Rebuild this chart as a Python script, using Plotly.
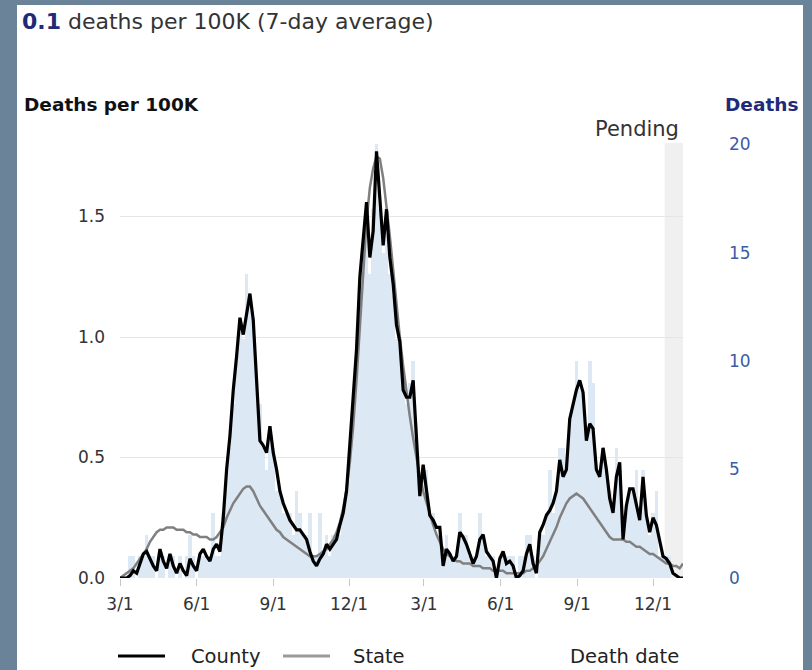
import pandas as pd
import plotly.graph_objects as go

# ---------------- data ----------------
START_DATE = "2020-03-01"
STEP_DAYS = 4          # sampling step of the series below
END_DATE = "2022-01-06"
PENDING_START = "2021-12-15"

# County 7-day average deaths per 100K
county = [0.00, 0.00, 0.00, 0.01, 0.03, 0.02, 0.06, 0.10, 0.11, 0.08,
          0.05, 0.03, 0.12, 0.07, 0.04, 0.10, 0.05, 0.02, 0.06, 0.03,
          0.01, 0.08, 0.05, 0.03, 0.10, 0.12, 0.09, 0.07, 0.12, 0.14,
          0.11, 0.25, 0.45, 0.59, 0.78, 0.92, 1.08, 1.01, 1.10, 1.18,
          1.07, 0.82, 0.57, 0.55, 0.52, 0.63, 0.52, 0.45, 0.36, 0.31,
          0.27, 0.24, 0.22, 0.20, 0.20, 0.18, 0.16, 0.11, 0.07, 0.05,
          0.08, 0.10, 0.14, 0.12, 0.14, 0.16, 0.22, 0.27, 0.36, 0.56,
          0.75, 0.95, 1.25, 1.42, 1.56, 1.33, 1.44, 1.77, 1.58, 1.38,
          1.53, 1.33, 1.22, 1.05, 0.98, 0.78, 0.75, 0.75, 0.82, 0.59,
          0.34, 0.47, 0.37, 0.26, 0.24, 0.21, 0.21, 0.05, 0.12, 0.10,
          0.07, 0.09, 0.19, 0.17, 0.14, 0.10, 0.06, 0.09, 0.16, 0.18,
          0.11, 0.09, 0.07, 0.00, 0.08, 0.11, 0.06, 0.07, 0.05, 0.00,
          0.01, 0.03, 0.10, 0.14, 0.06, 0.02, 0.19, 0.22, 0.26, 0.28,
          0.31, 0.36, 0.49, 0.42, 0.45, 0.66, 0.72, 0.78, 0.82, 0.77,
          0.57, 0.64, 0.62, 0.45, 0.42, 0.54, 0.45, 0.33, 0.27, 0.42,
          0.48, 0.16, 0.30, 0.37, 0.37, 0.30, 0.24, 0.42, 0.26, 0.19,
          0.25, 0.22, 0.15, 0.09, 0.08, 0.06, 0.02, 0.01, 0.00, 0.00]

# State 7-day average deaths per 100K
state = [0.00, 0.01, 0.02, 0.03, 0.04, 0.06, 0.08, 0.10, 0.12, 0.15,
         0.17, 0.19, 0.20, 0.20, 0.21, 0.21, 0.21, 0.20, 0.20, 0.20,
         0.19, 0.19, 0.18, 0.18, 0.17, 0.17, 0.17, 0.16, 0.16, 0.17,
         0.19, 0.21, 0.25, 0.28, 0.31, 0.33, 0.35, 0.37, 0.38, 0.38,
         0.36, 0.33, 0.30, 0.28, 0.26, 0.24, 0.22, 0.20, 0.19, 0.17,
         0.16, 0.15, 0.14, 0.13, 0.12, 0.11, 0.10, 0.09, 0.09, 0.09,
         0.10, 0.11, 0.12, 0.14, 0.16, 0.19, 0.23, 0.29, 0.37, 0.48,
         0.63, 0.82, 1.05, 1.28, 1.48, 1.62, 1.70, 1.75, 1.74, 1.66,
         1.55, 1.42, 1.28, 1.13, 1.00, 0.88, 0.77, 0.67, 0.58, 0.49,
         0.42, 0.36, 0.31, 0.26, 0.22, 0.18, 0.15, 0.12, 0.10, 0.09,
         0.08, 0.07, 0.07, 0.06, 0.06, 0.06, 0.05, 0.05, 0.05, 0.04,
         0.04, 0.04, 0.03, 0.03, 0.03, 0.03, 0.02, 0.02, 0.02, 0.02,
         0.02, 0.02, 0.03, 0.03, 0.04, 0.05, 0.07, 0.09, 0.12, 0.15,
         0.18, 0.21, 0.25, 0.28, 0.31, 0.33, 0.34, 0.35, 0.34, 0.33,
         0.31, 0.29, 0.27, 0.25, 0.23, 0.21, 0.19, 0.17, 0.16, 0.16,
         0.16, 0.16, 0.15, 0.15, 0.14, 0.13, 0.13, 0.12, 0.11, 0.10,
         0.10, 0.09, 0.08, 0.07, 0.06, 0.06, 0.05, 0.05, 0.04, 0.06]

# Daily deaths (right axis)
deaths = [0, 0, 0, 1, 1, 0, 1, 1, 2, 1,
          1, 0, 1, 1, 0, 1, 1, 0, 1, 0,
          1, 2, 1, 0, 1, 1, 1, 1, 3, 1,
          1, 3, 5, 6, 8, 10, 12, 11, 14, 13,
          12, 9, 8, 6, 5, 7, 6, 4, 4, 3,
          3, 3, 2, 4, 3, 2, 2, 3, 1, 1,
          3, 1, 2, 1, 2, 2, 2, 3, 4, 6,
          8, 11, 13, 15, 16, 14, 17, 20, 17, 15,
          16, 14, 13, 11, 11, 9, 8, 9, 10, 7,
          4, 5, 5, 3, 3, 2, 2, 1, 2, 1,
          1, 1, 3, 2, 2, 1, 1, 1, 3, 2,
          1, 1, 1, 0, 1, 1, 1, 1, 1, 0,
          1, 1, 2, 2, 1, 0, 2, 2, 3, 5,
          3, 4, 6, 6, 5, 7, 8, 10, 9, 8,
          7, 10, 9, 5, 5, 6, 5, 4, 3, 6,
          5, 2, 3, 4, 4, 5, 3, 5, 3, 2,
          3, 4, 1, 1, 1, 1, 0, 0, 0, 0]

x_tick_dates = ["2020-03-01", "2020-06-01", "2020-09-01", "2020-12-01",
                "2021-03-01", "2021-06-01", "2021-09-01", "2021-12-01"]
x_tick_text = ["3/1", "6/1", "9/1", "12/1", "3/1", "6/1", "9/1", "12/1"]
y_left_ticks = [0, 0.5, 1.0, 1.5]
y_left_text = ["0.0", "0.5", "1.0", "1.5"]
y_right_ticks = [0, 5, 10, 15, 20]

# ---------------- styling ----------------
FONT = "DejaVu Sans, Verdana, sans-serif"
NAVY = "#1f2a78"
BLUE_TICK = "#3c5ca6"
SLATE = "#6b8399"
BAR_COLOR = "rgb(221,232,245)"

dates = pd.date_range(START_DATE, periods=len(county), freq=f"{STEP_DAYS}D")

fig = go.Figure()
# bars on the primary (right, deaths) axis so the lines on the overlay draw above
fig.add_trace(go.Bar(
    x=dates, y=deaths, yaxis="y", marker_color=BAR_COLOR,
    marker_line_width=0, width=STEP_DAYS * 86400000 * 1.08, showlegend=False,
    hoverinfo="skip"))
fig.add_trace(go.Scatter(
    x=dates, y=state, mode="lines", name="State", yaxis="y2",
    line=dict(color="#808080", width=2.5), showlegend=False))
fig.add_trace(go.Scatter(
    x=dates, y=county, mode="lines", name="County", yaxis="y2",
    line=dict(color="#000000", width=3.2), showlegend=False))

# plot-area geometry (pixels): left 120, right 683, top 143, bottom 578
W, H = 812, 670
L, R, T, B = 120, 812 - 683, 143, 670 - 578
PW, PH = W - L - R, H - T - B


def px(xp):
    return (xp - L) / PW


def py(yp):
    return (H - B - yp) / PH


fig.update_layout(
    width=W, height=H,
    margin=dict(l=L, r=R, t=T, b=B, pad=0, autoexpand=False),
    paper_bgcolor="white", plot_bgcolor="white",
    font=dict(family=FONT, size=17, color="#333333"),
    bargap=0, showlegend=False,
    xaxis=dict(
        type="date", range=[START_DATE, END_DATE],
        tickvals=x_tick_dates, ticktext=x_tick_text,
        ticks="outside", ticklen=7, tickcolor="#c8c8c8", tickwidth=1,
        showgrid=False, showline=False, zeroline=False,
        ticklabelstandoff=4,
        tickfont=dict(size=17, color="#333333")),
    yaxis=dict(
        range=[0, 20.05], side="right",
        tickvals=y_right_ticks, showgrid=False, zeroline=False,
        showline=False, ticks="", ticklabelstandoff=45,
        tickfont=dict(size=17, color=BLUE_TICK)),
    yaxis2=dict(
        range=[0, 1.805], overlaying="y", side="left",
        tickvals=y_left_ticks, ticktext=y_left_text,
        showgrid=True, gridcolor="#e6e6e6", gridwidth=1,
        zeroline=False, showline=False, ticks="",
        ticklabelstandoff=14,
        tickfont=dict(size=17, color="#333333")),
)

# pending band
fig.add_shape(type="rect", xref="x", yref="y domain",
              x0=PENDING_START, x1=END_DATE, y0=0, y1=1,
              fillcolor="#f0f0f0", line_width=0, layer="below")

# slate border strips
for x0, x1, y0, y1 in [(-10, 17, -10, 680), (803, 822, -10, 680), (-10, 822, -10, 5)]:
    fig.add_shape(type="rect", xref="paper", yref="paper",
                  x0=px(x0), x1=px(x1), y0=py(y1), y1=py(y0),
                  fillcolor=SLATE, line_width=0, layer="above")

# legend keys
LEG_Y = 656
fig.add_shape(type="line", xref="paper", yref="paper",
              x0=px(118), x1=px(165), y0=py(LEG_Y), y1=py(LEG_Y),
              line=dict(color="#000000", width=3))
fig.add_shape(type="line", xref="paper", yref="paper",
              x0=px(283), x1=px(330), y0=py(LEG_Y), y1=py(LEG_Y),
              line=dict(color="#9a9a9a", width=3))

annotations = [
    dict(text=f"<b><span style='color:{NAVY}'>0.1</span></b> deaths per 100K (7-day average)",
         x=px(20), y=py(22), xanchor="left", yanchor="middle",
         font=dict(size=22, color="#333333")),
    dict(text="<b>Deaths per 100K</b>", x=px(22), y=py(104),
         xanchor="left", yanchor="middle", font=dict(size=18.5, color="#111111")),
    dict(text="<b>Deaths</b>", x=px(800), y=py(104),
         xanchor="right", yanchor="middle", font=dict(size=18.5, color=NAVY)),
    dict(text="Pending", x=px(681), y=py(129), xanchor="right",
         yanchor="middle", font=dict(size=21, color="#333333")),
    dict(text="County", x=px(189), y=py(LEG_Y), xanchor="left",
         yanchor="middle", font=dict(size=19.5, color="#222222")),
    dict(text="State", x=px(351), y=py(LEG_Y), xanchor="left",
         yanchor="middle", font=dict(size=19.5, color="#222222")),
    dict(text="Death date", x=px(681), y=py(LEG_Y), xanchor="right",
         yanchor="middle", font=dict(size=19.5, color="#222222")),
]
for a in annotations:
    fig.add_annotation(xref="paper", yref="paper", showarrow=False, **a)

fig.write_html("out.html",
               config={"displayModeBar": False},
               post_script="document.body.style.margin='0px';"
                           "document.body.style.overflow='hidden';")
